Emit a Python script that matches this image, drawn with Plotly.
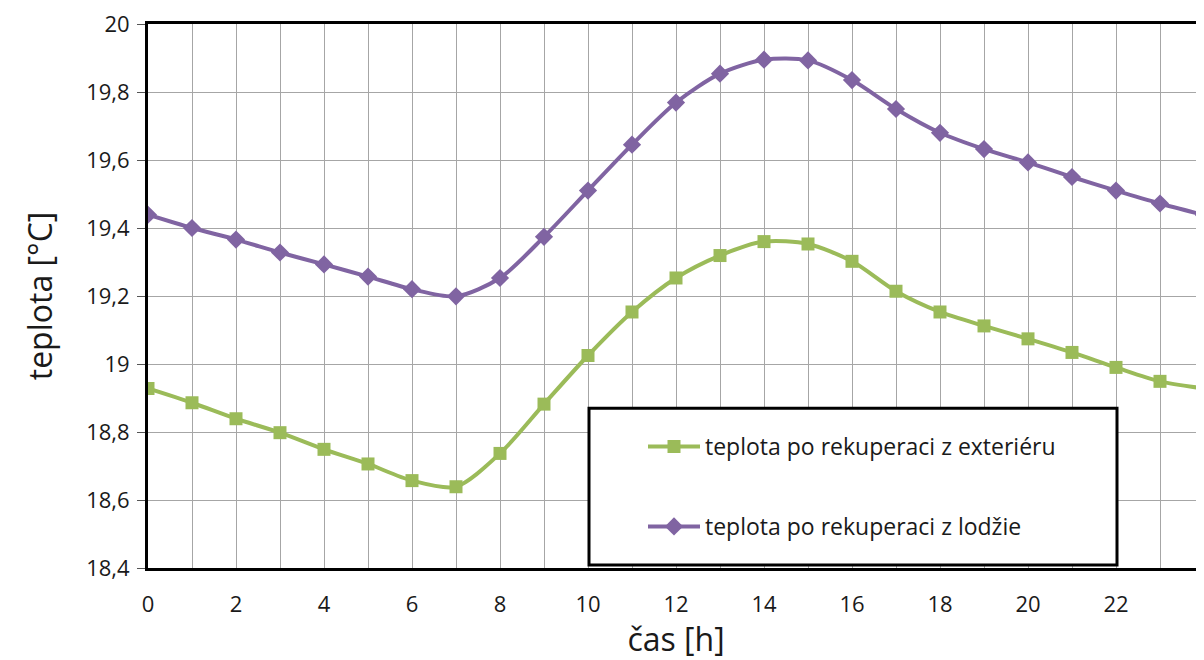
import plotly.graph_objects as go

hours = list(range(0, 25))
exterier = [18.928, 18.886, 18.839, 18.798, 18.749, 18.706, 18.657, 18.639, 18.737,
            18.882, 19.025, 19.153, 19.253, 19.319, 19.360, 19.353, 19.302, 19.214,
            19.153, 19.112, 19.074, 19.034, 18.990, 18.949, 18.928]
lodzie = [19.439, 19.400, 19.366, 19.328, 19.293, 19.257, 19.220, 19.199, 19.253,
          19.374, 19.510, 19.645, 19.769, 19.854, 19.895, 19.893, 19.835, 19.750,
          19.680, 19.632, 19.593, 19.550, 19.510, 19.472, 19.438]
names = ["teplota po rekuperaci z exteriéru", "teplota po rekuperaci z lodžie"]
x_ticks = [0, 2, 4, 6, 8, 10, 12, 14, 16, 18, 20, 22]
y_ticks = [18.4, 18.6, 18.8, 19.0, 19.2, 19.4, 19.6, 19.8, 20.0]

FONT = "Open Sans"
GREEN = "#9BBB59"
PURPLE = "#8064A2"

fig = go.Figure()
fig.add_trace(go.Scatter(
    x=hours, y=exterier, name=names[0], mode="lines+markers", legendgroup="a",
    line=dict(color=GREEN, width=4, shape="spline", smoothing=0.8),
    marker=dict(symbol="square", size=13, color=GREEN),
))
fig.add_trace(go.Scatter(
    x=hours, y=lodzie, name=names[1], mode="lines+markers", legendgroup="b",
    line=dict(color=PURPLE, width=4, shape="spline", smoothing=0.8),
    marker=dict(symbol="diamond", size=14, color=PURPLE),
))

# page body has an 8px margin, so the figure starts at (8, 8) in the window
W, H = 1196, 652
L, R, T, B = 140, 0, 12, 92
pw, ph = W - L - R, H - T - B

def px(xp):
    return (xp - 8 - L) / pw

def py(yp):
    return (H - B - (yp - 8)) / ph

fig.add_shape(type="rect", xref="paper", yref="paper",
              x0=px(589), x1=px(1117), y0=py(565), y1=py(407),
              fillcolor="white", line=dict(color="black", width=3), layer="above")

fig.update_layout(
    width=W, height=H,
    margin=dict(l=L, r=R, t=T, b=B),
    paper_bgcolor="white", plot_bgcolor="white",
    separators=", ",
    font=dict(family=FONT, size=20, color="#1a1a1a"),
    showlegend=True,
    legend=dict(
        x=px(643), y=py(424), xanchor="left", yanchor="top",
        bgcolor="rgba(0,0,0,0)", borderwidth=0, itemwidth=52,
        font=dict(family=FONT, size=23, color="#1a1a1a"),
        tracegroupgap=47,
    ),
    xaxis=dict(
        range=[0, 24], tickvals=x_ticks, ticks="", showline=True, linecolor="black",
        linewidth=3, mirror=True, showgrid=True, gridcolor="#A6A6A6", gridwidth=1,
        minor=dict(dtick=1, showgrid=True, gridcolor="#A6A6A6", gridwidth=1),
        zeroline=False, tickfont=dict(size=22), ticklabelstandoff=15,
        title=dict(text="čas [h]", font=dict(size=32), standoff=4),
    ),
    yaxis=dict(
        range=[18.4, 20.0], tickvals=y_ticks, ticks="outside", ticklen=8,
        tickcolor="#555555", tickwidth=1, showline=True, linecolor="black", linewidth=3,
        showgrid=True, gridcolor="#A6A6A6", gridwidth=1, zeroline=False,
        tickfont=dict(size=22), ticklabeloverflow="allow", ticklabelstandoff=3,
        title=dict(text="teplota [°C]", font=dict(size=32), standoff=24),
    ),
)

fig.write_html("out.html")
